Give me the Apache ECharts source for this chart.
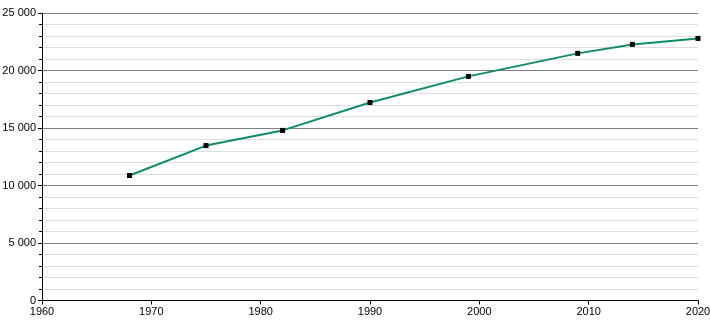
<!DOCTYPE html>
<html>
<head>
<meta charset="utf-8">
<script src="https://cdn.jsdelivr.net/npm/echarts@6/dist/echarts.min.js"></script>
<style>html,body{margin:0;padding:0;background:#fff}#c{width:710px;height:320px}</style>
</head>
<body>
<div id="c"></div>
<script>
var years = [1968, 1975, 1982, 1990, 1999, 2009, 2014, 2020];
var population = [10870, 13470, 14790, 17220, 19490, 21490, 22270, 22790];
var xTicks = [1960, 1970, 1980, 1990, 2000, 2010, 2020];
var yTicks = [0, 5000, 10000, 15000, 20000, 25000];

var chart = echarts.init(document.getElementById('c'), null, {renderer: 'canvas'});
function fmt(v){ return String(v).replace(/\B(?=(\d{3})+(?!\d))/g, ' '); }
chart.setOption({
  animation: false,
  grid: {left: 42, right: 12, top: 13, bottom: 19.5, containLabel: false, outerBoundsMode: 'none'},
  xAxis: {
    type: 'value', min: xTicks[0], max: xTicks[xTicks.length-1], interval: 10,
    axisLine: {lineStyle: {color: '#000', width: 1}},
    axisTick: {show: true, length: 4, lineStyle: {color: '#000'}},
    axisLabel: {color: '#000', fontSize: 11, fontFamily: 'Liberation Sans', margin: 6, formatter: function(v){return String(v);}},
    splitLine: {show: false}
  },
  yAxis: {
    type: 'value', min: yTicks[0], max: yTicks[yTicks.length-1], interval: 5000,
    axisLine: {show: true, lineStyle: {color: '#000', width: 1}},
    axisTick: {show: true, length: 4, lineStyle: {color: '#000'}},
    minorTick: {show: true, splitNumber: 5, length: 3, lineStyle: {color: '#000'}},
    axisLabel: {color: '#000', fontSize: 11, fontFamily: 'Liberation Sans', margin: 6, formatter: fmt},
    splitLine: {show: true, lineStyle: {color: '#808080', width: 1}},
    minorSplitLine: {show: true, lineStyle: {color: '#dddddd', width: 1}}
  },
  series: [{
    type: 'line',
    data: years.map(function(y, i){ return [y, population[i]]; }),
    lineStyle: {color: '#0f8b6b', width: 2},
    itemStyle: {color: '#000'},
    symbol: 'rect', symbolSize: 5,
    showAllSymbol: true
  }]
});
</script>
</body>
</html>
